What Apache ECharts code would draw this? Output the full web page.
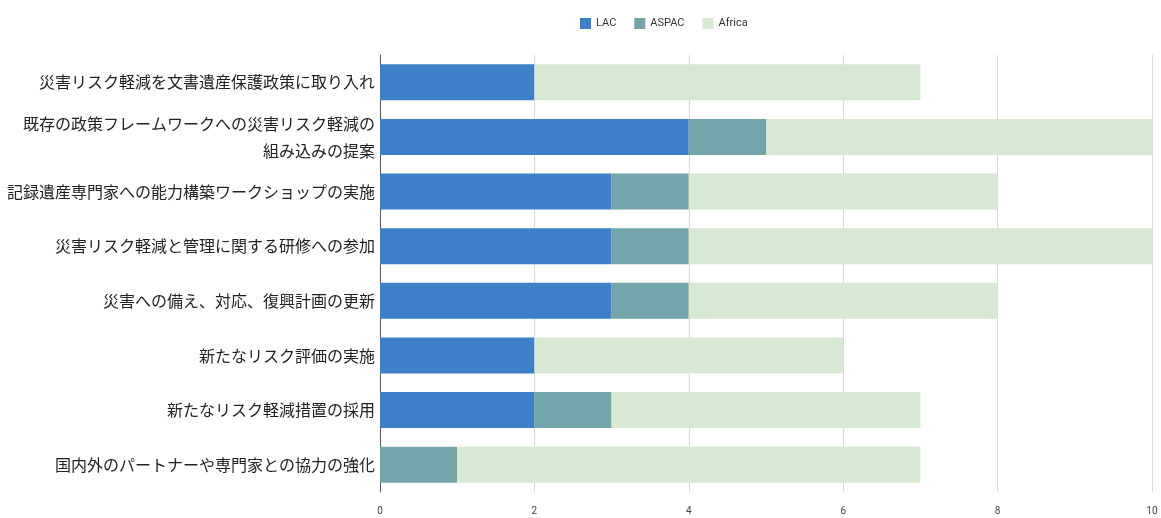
<!DOCTYPE html>
<html><head><meta charset="utf-8">
<script src="https://cdn.jsdelivr.net/npm/echarts@6/dist/echarts.min.js"></script>
<style>html,body{margin:0;padding:0;background:#fff}#c{width:1161px;height:518px}</style>
</head><body><div id="c"></div>
<script>
const categories = [
  "災害リスク軽減を文書遺産保護政策に取り入れ",
  "既存の政策フレームワークへの災害リスク軽減の\n組み込みの提案",
  "記録遺産専門家への能力構築ワークショップの実施",
  "災害リスク軽減と管理に関する研修への参加",
  "災害への備え、対応、復興計画の更新",
  "新たなリスク評価の実施",
  "新たなリスク軽減措置の採用",
  "国内外のパートナーや専門家との協力の強化"
];
const lac = [2, 4, 3, 3, 3, 2, 2, 0];
const aspac = [0, 1, 1, 1, 1, 0, 1, 1];
const africa = [5, 5, 4, 6, 4, 4, 4, 6];
const xTicks = [0, 2, 4, 6, 8, 10];

const chart = echarts.init(document.getElementById('c'));
const mk = (name, data, color) => ({
  name, type: 'bar', stack: 't', data, barWidth: '66%',
  itemStyle: { color }, emphasis: { disabled: true }
});
chart.setOption({
  animation: false,
  legend: {
    top: 13, left: 575, itemWidth: 11, itemHeight: 11, itemGap: 18,
    icon: 'rect',
    textStyle: { fontSize: 11, color: '#333', fontFamily: 'Roboto, sans-serif' },
    data: ['LAC', 'ASPAC', 'Africa']
  },
  grid: { left: 380, right: 9, top: 55, bottom: 26, containLabel: false },
  xAxis: {
    type: 'value', min: 0, max: 10, interval: 2,
    axisLine: { show: false }, axisTick: { show: false },
    splitLine: { lineStyle: { color: '#d9d9d9' } },
    axisLabel: { fontSize: 10, color: '#444', margin: 14, fontFamily: 'Roboto, sans-serif',
      formatter: v => xTicks.includes(v) ? String(v) : '' }
  },
  yAxis: {
    type: 'category', inverse: true, data: categories,
    axisLine: { lineStyle: { color: '#555' } }, axisTick: { show: false },
    axisLabel: { fontSize: 16, color: '#222', margin: 5, lineHeight: 27,
      fontFamily: '"Noto Sans CJK JP", sans-serif', align: 'right' }
  },
  series: [
    mk('LAC', lac, '#3d80c8'),
    mk('ASPAC', aspac, '#73a4aa'),
    mk('Africa', africa, '#d7e8d3')
  ]
});
</script></body></html>
